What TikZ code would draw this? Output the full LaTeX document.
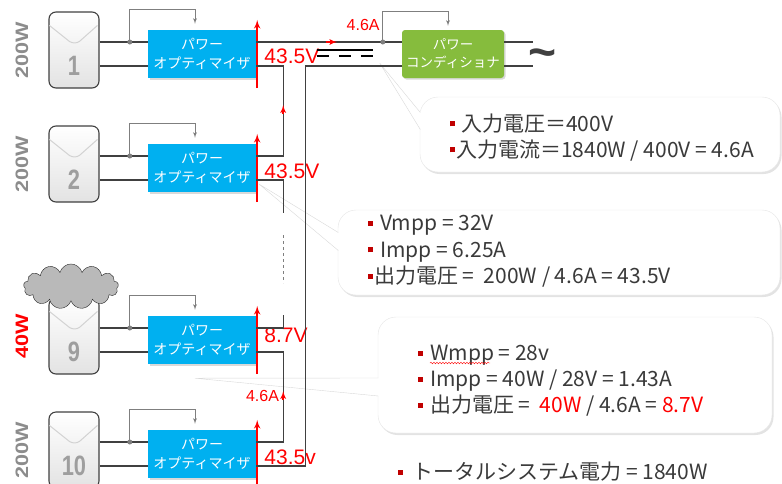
\documentclass[tikz,border=0pt]{standalone}
\usepackage{fontspec}
\setmainfont{Liberation Sans}
\newfontfamily\jpfont{Noto Sans CJK JP}
\usepackage{tikz}
\usetikzlibrary{shapes,shadows,arrows,calc,decorations.pathmorphing}

\definecolor{optblue}{HTML}{00B0F0}
\definecolor{pcsgreen}{HTML}{86BC3D}
\definecolor{wiregray}{HTML}{404040}
\definecolor{fbgray}{HTML}{7F7F7F}
\definecolor{bulletred}{HTML}{C00000}
\definecolor{textgray}{HTML}{3A3A3A}

\newcommand{\redsq}{\textcolor{bulletred}{\rule[5pt]{5pt}{5pt}}}

\tikzstyle{wire} = [draw=wiregray, line width=1.2pt]
\tikzstyle{fback} = [draw=fbgray, line width=0.9pt, -latex']
\tikzstyle{vout} = [draw=red, line width=2pt, -latex']
\tikzstyle{iarrow} = [draw=red, line width=1.7pt, -latex']
\tikzstyle{dot} = [circle, fill=fbgray, inner sep=0pt, minimum size=5pt]
\tikzstyle{panel} = [rectangle, rounded corners=7pt, draw=wiregray, line width=1.1pt, top color=white, bottom color=gray!22, minimum width=50pt, minimum height=76pt, node distance=128pt]
\tikzstyle{optim} = [rectangle, fill=optblue, text=white, minimum width=108pt, minimum height=48pt, align=center, font=\jpfont\fontsize{14}{19}\selectfont, drop shadow={opacity=0.3, shadow xshift=1.5pt, shadow yshift=-1.5pt}]
\tikzstyle{pcsbox} = [rectangle, rounded corners=3pt, fill=pcsgreen, text=white, minimum width=102pt, minimum height=48pt, align=center, font=\jpfont\fontsize{13.5}{18}\selectfont, drop shadow={opacity=0.3, shadow xshift=1.5pt, shadow yshift=-1.5pt}]
\tikzstyle{volt} = [text=red, font=\fontsize{21}{21}\selectfont, anchor=west, inner sep=0pt]
\tikzstyle{amp} = [text=red, font=\fontsize{16}{16}\selectfont, inner sep=0pt]
\tikzstyle{watt} = [rotate=90, font=\bfseries\fontsize{18}{18}\selectfont, inner sep=0pt]
\tikzstyle{panelno} = [font=\bfseries\fontsize{28}{28}\selectfont, text=black!38, inner sep=0pt]
\tikzstyle{infobox} = [rectangle, rounded corners=18pt, draw=gray!20, fill=white, drop shadow={opacity=0.22, shadow xshift=1.5pt, shadow yshift=-2pt}]
\tikzstyle{infotext} = [anchor=west, align=left, text=textgray, font=\jpfont\fontsize{21}{26}\selectfont, inner sep=0pt]

\begin{document}
\begin{tikzpicture}[x=1pt, y=-1pt]
	\useasboundingbox (0,0) rectangle (782,483);

	% optimizers, one per module
	\node[optim] (opt1) at (202,54) {パワー\\オプティマイザ};
	\node[optim] (opt2) at (202,168) {パワー\\オプティマイザ};
	\node[optim] (opt9) at (202,340) {パワー\\オプティマイザ};
	\node[optim] (opt10) at (202,454) {パワー\\オプティマイザ};

	\node[pcsbox] (pcs) at (453,54) {パワー\\コンディショナ};

	% callouts
	\coordinate (pcstip) at ($(pcs.south west)+(-22,-15)$);
	\coordinate (opttip) at ($(opt2.south east)+(3,-8)$);
	\coordinate (mppttip) at ($(opt9.south)+(-7,14)$);

	\node[infobox, minimum width=360pt, minimum height=75pt] (pcsinfo) at (600,134.5) {};
	\fill[white] (pcstip) -- ($(pcsinfo.west)+(1.5,-22)$) -- ($(pcsinfo.west)+(1.5,-5)$) -- cycle;
	\draw[gray!30] ($(pcsinfo.west)+(0.5,-22)$) -- (pcstip) -- ($(pcsinfo.west)+(0.5,-5)$);

	\node[infobox, minimum width=442pt, minimum height=85pt] (optinfo) at (559,252.5) {};
	\fill[white] (opttip) -- ($(optinfo.west)+(1.5,-20)$) -- ($(optinfo.west)+(1.5,-2)$) -- cycle;
	\draw[gray!30] ($(optinfo.west)+(0.5,-20)$) -- (opttip) -- ($(optinfo.west)+(0.5,-2)$);

	\node[infobox, minimum width=394pt, minimum height=116pt] (mpptinfo) at (575,375) {};
	\fill[white] (mppttip) -- ($(mpptinfo.west)+(1.5,3)$) -- ($(mpptinfo.west)+(1.5,21)$) -- cycle;
	\draw[gray!30] ($(mpptinfo.west)+(0.5,3)$) -- (mppttip) -- ($(mpptinfo.west)+(0.5,21)$);

	\node[infotext] (pcstext) at (450,137.5) {\redsq\hspace{6pt}入力電圧＝400V\\\redsq\hspace{1pt}入力電流＝1840W / 400V = 4.6A};
	\node[infotext, font=\jpfont\fontsize{21}{26.5}\selectfont] (opttext) at (368,251.5) {\redsq\hspace{7pt}Vmpp = 32V\\\redsq\hspace{7pt}Impp = 6.25A\\\redsq\hspace{1pt}出力電圧 =\ \ 200W / 4.6A = 43.5V};
	\node[infotext] (mppttext) at (418,381) {\redsq\hspace{7pt}Wmpp = 28v\\\redsq\hspace{7pt}Impp = 40W / 28V = 1.43A\\\redsq\hspace{7pt}出力電圧 =\ \ \textcolor{red}{40W} / 4.6A = \textcolor{red}{8.7V}};
	\draw[red, line width=0.4pt, decorate, decoration={snake, amplitude=0.8pt, segment length=3pt}] ($(mppttext.west)+(12,-18)$) -- ++(60,0);
	\node[infotext] (total) at (398,472) {\redsq\hspace{9pt}トータルシステム電力 = 1840W};

	% modules and their wiring
	\foreach \r/\w/\c in {1/200W/black!45, 2/200W/black!45, 9/40W/red, 10/200W/black!45} {
		\node[panel, left of=opt\r, yshift=4pt] (pan\r) {};
		\draw[gray!35, line width=1pt] ($(pan\r.north west)+(1,14)$) -- ($(pan\r.north west)+(21,30)$) .. controls ($(pan\r.north west)+(24,32)$) and ($(pan\r.north west)+(28,32)$) .. ($(pan\r.north west)+(31,30)$) -- ($(pan\r.north west)+(49,14)$);
		\node[panelno] (n\r) at ([yshift=-16pt]pan\r.center) {\scalebox{0.78}[1]{\r}};
		\node[watt, text=\c] (w\r) at ([xshift=-52pt]pan\r.center) {\scalebox{1.2}[1]{\w}};

		\coordinate (ti\r) at ($(opt\r.west)+(0,-12)$);
		\coordinate (bi\r) at ($(opt\r.west)+(0,12)$);
		\coordinate (to\r) at ($(opt\r.east)+(0,-12)$);
		\coordinate (bo\r) at ($(opt\r.east)+(0,12)$);
		\draw[wire] (pan\r.east |- ti\r) -- (ti\r);
		\draw[wire] (pan\r.east |- bi\r) -- (bi\r);

		\node[dot] (d\r) at ($(ti\r)+(-18,0)$) {};
		\path[fback] (d\r.center) -- ++(0,-33) -| ($(opt\r.north)+(-7,-6)$);
		\path[vout] ($(opt\r.south east)+(1,10)$) -- ($(opt\r.north east)+(1,-10)$);
	}

	\node[cloud, cloud puffs=13, aspect=2.1, fill=gray!55, draw=gray!30!black, minimum width=95pt, minimum height=45pt, inner sep=0pt] (cloud9) at ($(pan9.north)+(-3,-11)$) {};

	\node[volt] (v1) at ($(opt1.east)+(8,2)$) {43.5V};
	\node[volt] (v2) at ($(opt2.east)+(8,3)$) {43.5V};
	\node[volt] (v9) at ($(opt9.east)+(8,-5)$) {8.7V};
	\node[volt] (v10) at ($(opt10.east)+(8,3)$) {43.5v};

	% string in series
	\draw[wire] (to1) -- ($(pcs.west)+(0,-12)$);
	\draw[wire] (bo1) -- ++(27,0) |- (to2);
	\draw[wire] (bo2) -- ++(27,0) -- ++(0,33);
	\draw[fbgray, line width=0.6pt, dash pattern=on 3pt off 3pt] ($(bo2)+(27,55)$) -- ($(bo2)+(27,103)$);
	\draw[wire] (to9) -- ++(27,0) -- ++(0,-13);
	\draw[wire] (bo9) -- ++(27,0) |- (to10);
	\draw[wire] (bo10) -- ++(49,0) |- ($(pcs.west)+(0,12)$);

	\path[iarrow] ($(bo1)+(27,48)$) -- ++(0,-9);
	\path[iarrow] ($(bo9)+(27,48)$) -- ++(0,-9);
	\node[amp, anchor=east] (i9) at ($(bo9)+(23,44)$) {4.6A};
	\path[iarrow] ($(to1)+(70,0)$) -- ++(11,0);
	\node[amp] (i1) at ($(to1)+(107,-17)$) {4.6A};

	% DC mark
	\draw[black, line width=1.8pt] ($(pcs.west)+(-85,-4)$) -- ++(56,0);
	\draw[black, line width=1.8pt, dash pattern=on 12pt off 10pt] ($(pcs.west)+(-85,2)$) -- ++(56,0);

	% conditioner control and AC side
	\node[dot] (dp) at ($(pcs.west)+(-19,-12)$) {};
	\path[fback] (dp.center) -- ++(0,-31) -| ($(pcs.north)+(-5,-4)$);
	\draw[wire] ($(pcs.east)+(0,-12)$) -- ++(29,0);
	\draw[wire] ($(pcs.east)+(0,12)$) -- ++(29,0);
	\node[font=\bfseries\fontsize{48}{48}\selectfont, text=wiregray, inner sep=0pt] (ac) at ($(pcs.east)+(38,5)$) {\textasciitilde};
\end{tikzpicture}
\end{document}
